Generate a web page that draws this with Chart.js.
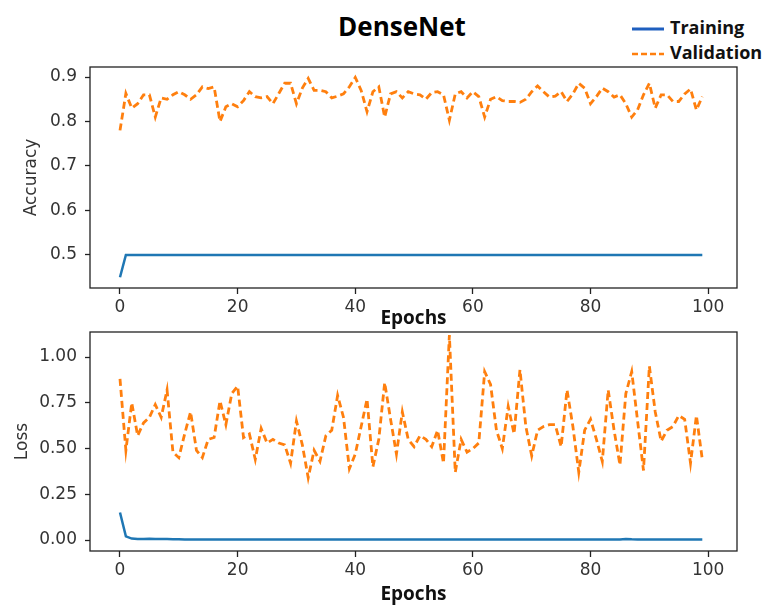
<!DOCTYPE html>
<html>
<head>
    <title>DenseNet</title>
    <meta charset="utf-8" />
    <style>
    body { margin: 0; background: #fff; width: 766px; height: 606px; position: relative; overflow: hidden; }
    #title { position: absolute; left: 0; width: 766px; top: 8px; text-align: center; font: bold 26px "Open Sans"; color: #000; padding-left: 38px; box-sizing: border-box; }
    .leg { position: absolute; left: 632px; font: bold 18px "Open Sans"; color: #111; height: 22px; line-height: 22px; white-space: nowrap; }
    .leg svg { vertical-align: middle; margin-right: 6px; }
    #c1 { position: absolute; left: 0; top: 60px; }
    #c2 { position: absolute; left: 0; top: 330px; }
    </style>
    <script src="https://cdn.jsdelivr.net/npm/chart.js"></script>
</head>
<body>
<div id="title">DenseNet</div>
<div class="leg" style="top:16px"><svg width="32" height="4"><line x1="0" y1="2" x2="32" y2="2" stroke="#1f5fbf" stroke-width="3"/></svg>Training</div>
<div class="leg" style="top:41px"><svg width="32" height="4"><line x1="0" y1="2" x2="32" y2="2" stroke="#ff7f0e" stroke-width="2.5" stroke-dasharray="6,3"/></svg>Validation</div>
<canvas id="c1" width="766" height="270"></canvas>
<canvas id="c2" width="766" height="276"></canvas>
<script>
let epochs = [];
for (let i = 0; i < 100; i++) epochs.push(i);

let trainAcc = [0.45, 0.5, 0.5, 0.5, 0.5, 0.5, 0.5, 0.5, 0.5, 0.5,
    0.5, 0.5, 0.5, 0.5, 0.5, 0.5, 0.5, 0.5, 0.5, 0.5,
    0.5, 0.5, 0.5, 0.5, 0.5, 0.5, 0.5, 0.5, 0.5, 0.5,
    0.5, 0.5, 0.5, 0.5, 0.5, 0.5, 0.5, 0.5, 0.5, 0.5,
    0.5, 0.5, 0.5, 0.5, 0.5, 0.5, 0.5, 0.5, 0.5, 0.5,
    0.5, 0.5, 0.5, 0.5, 0.5, 0.5, 0.5, 0.5, 0.5, 0.5,
    0.5, 0.5, 0.5, 0.5, 0.5, 0.5, 0.5, 0.5, 0.5, 0.5,
    0.5, 0.5, 0.5, 0.5, 0.5, 0.5, 0.5, 0.5, 0.5, 0.5,
    0.5, 0.5, 0.5, 0.5, 0.5, 0.5, 0.5, 0.5, 0.5, 0.5,
    0.5, 0.5, 0.5, 0.5, 0.5, 0.5, 0.5, 0.5, 0.5, 0.5];

let valAcc = [0.78, 0.863, 0.83, 0.84, 0.86, 0.86, 0.81, 0.853, 0.85, 0.86,
    0.867, 0.86, 0.85, 0.86, 0.878, 0.874, 0.878, 0.80, 0.833, 0.84,
    0.833, 0.847, 0.867, 0.856, 0.853, 0.856, 0.84, 0.863, 0.886, 0.886,
    0.84, 0.875, 0.897, 0.87, 0.87, 0.867, 0.853, 0.857, 0.862, 0.878,
    0.899, 0.87, 0.822, 0.867, 0.878, 0.81, 0.862, 0.867, 0.853, 0.867,
    0.862, 0.86, 0.85, 0.865, 0.867, 0.86, 0.803, 0.862, 0.867, 0.853,
    0.867, 0.856, 0.81, 0.85, 0.856, 0.847, 0.845, 0.845, 0.843, 0.85,
    0.867, 0.88, 0.867, 0.855, 0.857, 0.867, 0.845, 0.862, 0.886, 0.875,
    0.84, 0.856, 0.875, 0.867, 0.855, 0.86, 0.84, 0.81, 0.826, 0.86,
    0.886, 0.83, 0.86, 0.86, 0.845, 0.845, 0.862, 0.873, 0.826, 0.856];

let trainLoss = [0.15, 0.02, 0.008, 0.006, 0.006, 0.007, 0.006, 0.005, 0.005, 0.004,
    0.004, 0.003, 0.003, 0.003, 0.003, 0.003, 0.003, 0.003, 0.003, 0.003,
    0.003, 0.003, 0.003, 0.003, 0.003, 0.003, 0.003, 0.003, 0.003, 0.003,
    0.003, 0.003, 0.003, 0.003, 0.003, 0.003, 0.003, 0.003, 0.003, 0.003,
    0.003, 0.003, 0.003, 0.003, 0.003, 0.003, 0.003, 0.003, 0.003, 0.003,
    0.003, 0.003, 0.003, 0.003, 0.003, 0.003, 0.003, 0.003, 0.003, 0.003,
    0.003, 0.003, 0.003, 0.003, 0.003, 0.003, 0.003, 0.003, 0.003, 0.003,
    0.003, 0.003, 0.003, 0.003, 0.003, 0.003, 0.003, 0.003, 0.003, 0.003,
    0.003, 0.003, 0.003, 0.003, 0.003, 0.003, 0.006, 0.004, 0.003, 0.003,
    0.003, 0.003, 0.003, 0.003, 0.003, 0.003, 0.003, 0.003, 0.003, 0.003];

let valLoss = [0.88, 0.49, 0.75, 0.57, 0.64, 0.67, 0.74, 0.67, 0.82, 0.48,
    0.45, 0.58, 0.70, 0.49, 0.45, 0.55, 0.56, 0.76, 0.63, 0.80,
    0.84, 0.56, 0.58, 0.44, 0.61, 0.53, 0.55, 0.53, 0.52, 0.42,
    0.65, 0.52, 0.34, 0.49, 0.43, 0.57, 0.60, 0.79, 0.67, 0.39,
    0.47, 0.62, 0.77, 0.40, 0.55, 0.86, 0.66, 0.47, 0.70, 0.55,
    0.51, 0.57, 0.55, 0.51, 0.60, 0.42, 1.12, 0.37, 0.55, 0.48,
    0.50, 0.53, 0.92, 0.85, 0.60, 0.50, 0.73, 0.58, 0.93, 0.62,
    0.46, 0.60, 0.62, 0.63, 0.63, 0.51, 0.82, 0.62, 0.37, 0.60,
    0.66, 0.55, 0.43, 0.82, 0.60, 0.41, 0.80, 0.92, 0.65, 0.38,
    0.95, 0.70, 0.54, 0.60, 0.62, 0.68, 0.66, 0.42, 0.68, 0.44];

let xTicks = [0, 20, 40, 60, 80, 100];
let accTicks = [0.5, 0.6, 0.7, 0.8, 0.9];
let lossTicks = [0, 0.25, 0.5, 0.75, 1.0];

// box around the plot area, like matplotlib
let frame = {
    id: 'frame',
    afterDraw(chart) {
        let a = chart.chartArea, c = chart.ctx;
        c.save();
        c.strokeStyle = '#222';
        c.lineWidth = 1.3;
        c.strokeRect(a.left, a.top, a.right - a.left, a.bottom - a.top);
        c.restore();
    }
};

function pts(arr) { return arr.map((v, i) => ({ x: epochs[i], y: v })); }

function makeChart(id, train, val, yMin, yMax, yTicks, yTitle, yTitlePad, decimals, xHeight, padTop) {
    let tickFont = { family: 'DejaVu Sans', size: 17 };
    return new Chart(document.getElementById(id), {
        type: 'line',
        data: {
            datasets: [
                { label: 'Training', data: pts(train), borderColor: '#1f77b4', borderWidth: 2.5, pointRadius: 0, tension: 0 },
                { label: 'Validation', data: pts(val), borderColor: '#ff7f0e', borderWidth: 2.8, borderDash: [7, 4], pointRadius: 0, tension: 0 }
            ]
        },
        options: {
            responsive: false,
            animation: false,
            layout: { padding: { top: padTop, right: 29, left: 0, bottom: 0 } },
            plugins: { legend: { display: false }, tooltip: { enabled: false } },
            scales: {
                x: {
                    type: 'linear', min: -5.1, max: 104.9,
                    afterBuildTicks: s => { s.ticks = xTicks.map(v => ({ value: v })); },
                    afterFit: s => { s.height = xHeight; s.paddingLeft = 0; s.paddingRight = 0; },
                    grid: { drawOnChartArea: false, drawTicks: true, tickLength: 6, tickColor: '#222', tickWidth: 1.3 },
                    border: { display: false },
                    ticks: { font: tickFont, color: '#333', padding: 3, maxRotation: 0 },
                    title: { display: true, text: 'Epochs', font: { family: 'Open Sans', size: 19, weight: 'bold' }, color: '#111', padding: { top: 0, bottom: 0 } }
                },
                y: {
                    min: yMin, max: yMax,
                    afterBuildTicks: s => { s.ticks = yTicks.map(v => ({ value: v })); },
                    afterFit: s => { s.width = 90; s.paddingTop = 0; s.paddingBottom = 0; },
                    grid: { drawOnChartArea: false, drawTicks: true, tickLength: 5, tickColor: '#222', tickWidth: 1.3 },
                    border: { display: false },
                    ticks: { font: tickFont, color: '#333', padding: 8, callback: v => v.toFixed(decimals) },
                    title: { display: true, text: yTitle, font: { family: 'DejaVu Sans', size: 17 }, color: '#333', padding: { top: yTitlePad, bottom: 0 } }
                }
            }
        },
        plugins: [frame]
    });
}

makeChart('c1', trainAcc, valAcc, 0.4258, 0.9225, accTicks, 'Accuracy', 21, 1, 42, 7);
makeChart('c2', trainLoss, valLoss, -0.060, 1.1366, lossTicks, 'Loss', 12, 2, 55, 2);
</script>
</body>
</html>
